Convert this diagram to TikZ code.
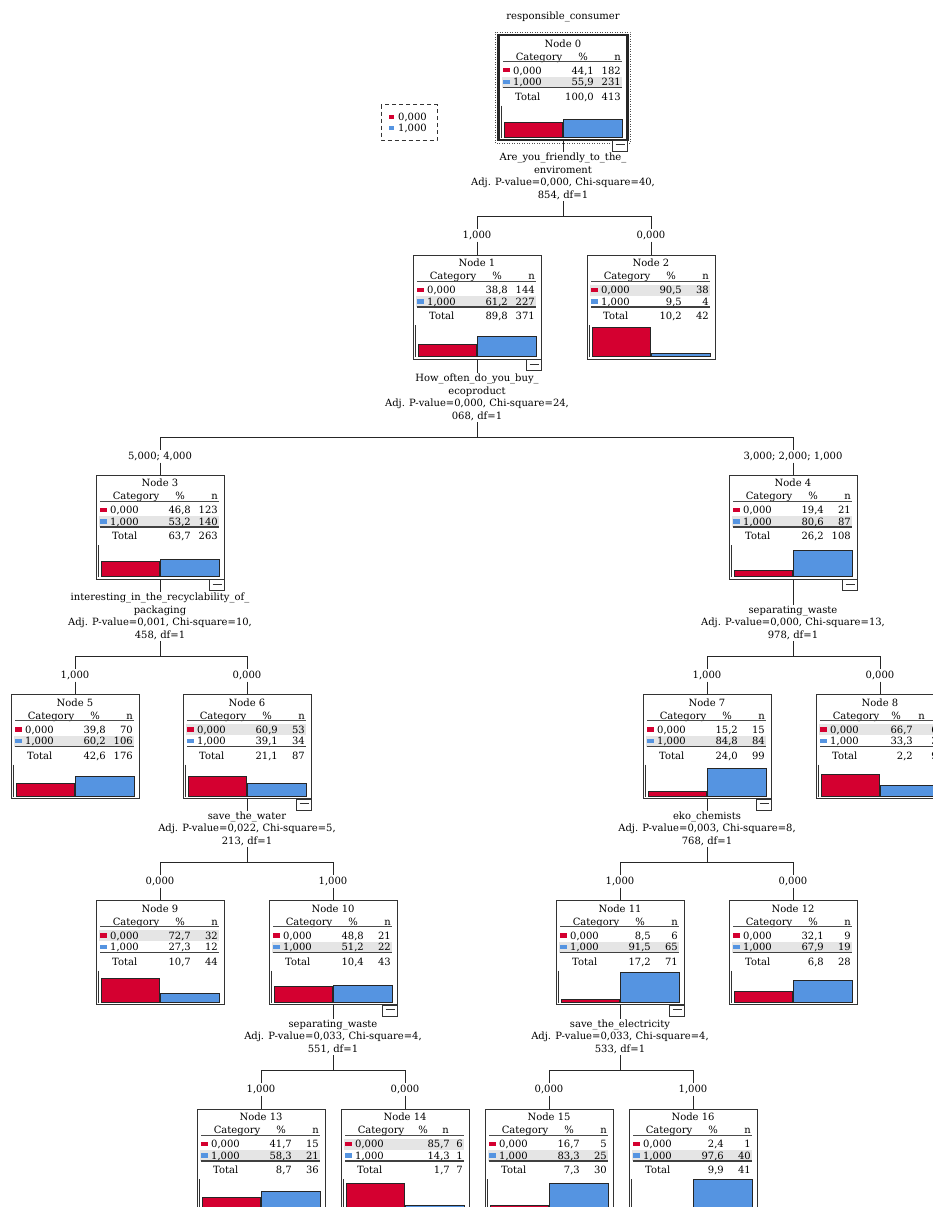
\documentclass[tikz,border=0pt]{standalone}
\usepackage{fontspec}
\setmainfont{DejaVu Serif}
\usetikzlibrary{calc}
\definecolor{catred}{RGB}{212,0,48}
\definecolor{catblue}{RGB}{85,148,225}
\newcommand{\tabfont}{\fontsize{10}{12.5}\selectfont}
\tikzset{
	treebox/.style={draw=black!80,line width=1pt,minimum width=128pt,minimum height=104pt,inner sep=0pt},%
	tabcell/.style={inner sep=0pt,text height=7.2pt,text depth=0pt,font=\tabfont},%
	splitlabel/.style={align=center,inner sep=1pt,font=\tabfont},%
	branchlabel/.style={inner sep=1.5pt,font=\tabfont},%
	connector/.style={draw=black!85,line width=0.9pt},%
	catbar/.style={draw=black!85,line width=0.9pt},%
	rowshade/.style={fill=black!10},%
	minusbox/.style={draw=black!80,line width=0.8pt,fill=white},%
}
\def\barscale{32}

\begin{document}
\begin{tikzpicture}[%
		x=1pt,y=-1pt,%
		]
		\useasboundingbox[fill=white] (0,0) rectangle (933,1207);
		% legend
		\draw[black!80,line width=0.9pt,dash pattern=on 4pt off 3pt] (381,104.5) rectangle (437,140);
		\fill[catred] (389,114.5) rectangle (394,119);
		\node[tabcell,anchor=west] (leg0) at (398,116.7) {0,000};
		\fill[catblue] (389,125.5) rectangle (394,130);
		\node[tabcell,anchor=west] (leg1) at (398,127.7) {1,000};
		\node[tabcell] (target) at (563,16) {responsible\_consumer};
		% tree nodes
		\foreach \id/\cx/\ty/\pa/\na/\pb/\nb/\ptot/\ntot/\hl/\ph/\nh/\pc in {
			0/563/35.5/{44,1}/182/{55,9}/231/{100,0}/413/1/20/58/31,
			1/477/255/{38,8}/144/{61,2}/227/{89,8}/371/1/20/58/31,
			2/651/255/{90,5}/38/{9,5}/4/{10,2}/42/0/20/58/31,
			3/160/475/{46,8}/123/{53,2}/140/{63,7}/263/1/20/58/31,
			4/793/475/{19,4}/21/{80,6}/87/{26,2}/108/1/20/58/31,
			5/75/694.5/{39,8}/70/{60,2}/106/{42,6}/176/1/20/58/31,
			6/247/694.5/{60,9}/53/{39,1}/34/{21,1}/87/0/20/58/31,
			7/707/694.5/{15,2}/15/{84,8}/84/{24,0}/99/1/20/58/31,
			8/880/694.5/{66,7}/6/{33,3}/3/{2,2}/9/0/16/45/33,
			9/160/900.5/{72,7}/32/{27,3}/12/{10,7}/44/0/20/58/31,
			10/333/900.5/{48,8}/21/{51,2}/22/{10,4}/43/1/20/58/31,
			11/620/900.5/{8,5}/6/{91,5}/65/{17,2}/71/1/20/58/31,
			12/793/900.5/{32,1}/9/{67,9}/19/{6,8}/28/1/20/58/31,
			13/261/1109/{41,7}/15/{58,3}/21/{8,7}/36/1/20/58/31,
			14/405/1109/{85,7}/6/{14,3}/1/{1,7}/7/0/18/44/45,
			15/549/1109/{16,7}/5/{83,3}/25/{7,3}/30/1/20/58/31,
			16/693/1109/{2,4}/1/{97,6}/40/{9,9}/41/1/20/58/31}{
			\node[treebox] (n\id) at (\cx,{\ty+52}) {};
			\fill[rowshade] ({\cx-61},{\ty+29.5+11.5*\hl}) rectangle ({\cx+59},{\ty+40.5+11.5*\hl});
			\node[tabcell] (n\id-title) at (\cx,{\ty+8}) {Node \id};
			\node[tabcell] (n\id-cat) at ({\cx-24},{\ty+21}) {Category};
			\node[tabcell] (n\id-pct) at ({\cx+\ph},{\ty+21}) {\%};
			\node[tabcell,anchor=east] (n\id-n) at ({\cx+\nh},{\ty+21}) {n};
			\draw[black!70,line width=0.8pt] ({\cx-60},{\ty+26}) -- ({\cx+59},{\ty+26});
			\fill[catred] ({\cx-60},{\ty+32.5}) rectangle ({\cx-53},{\ty+37});
			\node[tabcell,anchor=west] (n\id-a) at ({\cx-50},{\ty+35}) {0,000};
			\node[tabcell,anchor=east] (n\id-pa) at ({\cx+\pc},{\ty+35}) {\pa};
			\node[tabcell,anchor=east] (n\id-na) at ({\cx+58},{\ty+35}) {\na};
			\fill[catblue] ({\cx-60},{\ty+44}) rectangle ({\cx-53},{\ty+48.5});
			\node[tabcell,anchor=west] (n\id-b) at ({\cx-50},{\ty+46.5}) {1,000};
			\node[tabcell,anchor=east] (n\id-pb) at ({\cx+\pc},{\ty+46.5}) {\pb};
			\node[tabcell,anchor=east] (n\id-nb) at ({\cx+58},{\ty+46.5}) {\nb};
			\draw[black!75,line width=1.2pt] ({\cx-60},{\ty+52}) -- ({\cx+59},{\ty+52});
			\node[tabcell,anchor=west] (n\id-tot) at ({\cx-48},{\ty+61}) {Total};
			\node[tabcell,anchor=east] (n\id-ptot) at ({\cx+\pc},{\ty+61}) {\ptot};
			\node[tabcell,anchor=east] (n\id-ntot) at ({\cx+58},{\ty+61}) {\ntot};
			\draw[black!80,line width=1pt] ({\cx-61.5},{\ty+70}) -- ({\cx-61.5},{\ty+102});
			\filldraw[catbar,fill=catred] ({\cx-59},{\ty+101.5}) rectangle ({\cx-0.5},{\ty+101.5-\barscale*\na/\ntot});
			\filldraw[catbar,fill=catblue] ({\cx+0.5},{\ty+101.5}) rectangle ({\cx+59.5},{\ty+101.5-\barscale*\nb/\ntot});
		}
		% selected root
		\draw[black!85,line width=2.4pt] (n0.south west) rectangle (n0.north east);
		\draw[black!70,line width=0.9pt,dash pattern=on 1pt off 1.5pt] ($(n0.south west)+(-3,3)$) rectangle ($(n0.north east)+(3,-3)$);
		% collapse boxes
		\foreach \id in {0,1,3,4,6,7,10,11}{
			\draw[minusbox] ($(n\id.south east)+(-15,0)$) rectangle ($(n\id.south east)+(0,11)$);
			\draw[black!80,line width=0.8pt] ($(n\id.south east)+(-12,4.5)$) -- ($(n\id.south east)+(-3,4.5)$);
		}
		% splits
		\foreach \id/\cx/\by/\lc/\rc/\bl/\br/\txt in {
			0/563/216/1/2/{1,000}/{0,000}/{Are\_you\_friendly\_to\_the\_\\enviroment\\Adj. P-value=0,000, Chi-square=40,\\854, df=1},
			1/477/437/3/4/{5,000; 4,000}/{3,000; 2,000; 1,000}/{How\_often\_do\_you\_buy\_\\ecoproduct\\Adj. P-value=0,000, Chi-square=24,\\068, df=1},
			3/160/656/5/6/{1,000}/{0,000}/{interesting\_in\_the\_recyclability\_of\_\\packaging\\Adj. P-value=0,001, Chi-square=10,\\458, df=1},
			4/793/656/7/8/{1,000}/{0,000}/{separating\_waste\\Adj. P-value=0,000, Chi-square=13,\\978, df=1},
			6/247/862/9/10/{0,000}/{1,000}/{save\_the\_water\\Adj. P-value=0,022, Chi-square=5,\\213, df=1},
			7/707/862/11/12/{1,000}/{0,000}/{eko\_chemists\\Adj. P-value=0,003, Chi-square=8,\\768, df=1},
			10/333/1070/13/14/{1,000}/{0,000}/{separating\_waste\\Adj. P-value=0,033, Chi-square=4,\\551, df=1},
			11/620/1070/15/16/{0,000}/{1,000}/{save\_the\_electricity\\Adj. P-value=0,033, Chi-square=4,\\533, df=1}}{
			\node[splitlabel,anchor=south] (s\id) at (\cx,{\by-15}) {\txt};
			\coordinate (j\id) at (\cx,\by);
			\path (n\lc.north |- j\id) ++(0,19.5) node[branchlabel] (b\lc) {\bl};
			\path (n\rc.north |- j\id) ++(0,19.5) node[branchlabel] (b\rc) {\br};
			\draw[connector] (n\id) -- (s\id);
			\draw[connector] (s\id) -- (j\id);
			\draw[connector] (j\id) -| (b\lc);
			\draw[connector] (j\id) -| (b\rc);
			\draw[connector] (b\lc) -- (n\lc);
			\draw[connector] (b\rc) -- (n\rc);
		}
	\end{tikzpicture}
\end{document}
